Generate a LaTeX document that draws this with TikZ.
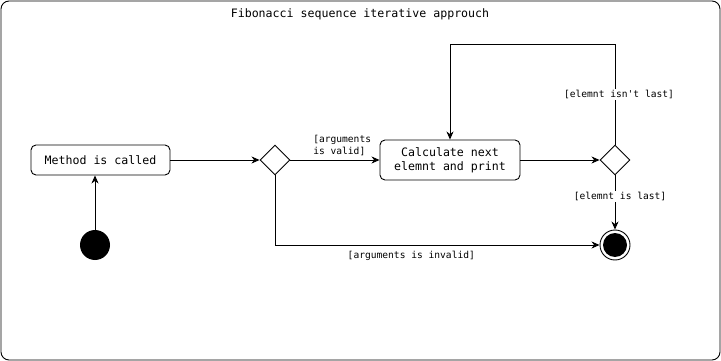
\documentclass[tikz,border=0pt]{standalone}
\usepackage{fontspec}
\setmonofont{DejaVu Sans Mono}
\usetikzlibrary{shapes.geometric,arrows.meta}
\tikzset{>={Stealth[length=8pt,width=7pt,inset=2.5pt]}}
\tikzset{%
  flow/.style={line width=0.9pt,->},
  action/.style={draw,line width=0.9pt,rounded corners=5pt,inner sep=0pt,
    minimum width=139pt,minimum height=30pt,align=center,
    font=\ttfamily\fontsize{11.6}{14}\selectfont},
  decision/.style={draw,diamond,aspect=1,line width=0.9pt,inner sep=0pt,
    minimum width=30pt,minimum height=30pt},
  guard/.style={inner sep=1pt,font=\ttfamily\fontsize{9.6}{11.5}\selectfont},
  initial/.style={circle,fill=black,minimum size=30pt,inner sep=0pt},
  final/.style={circle,draw,line width=0.9pt,minimum size=30pt,inner sep=0pt,
    path picture={\fill (path picture bounding box.center) circle (12pt);}}
}

\begin{document}
\begin{tikzpicture}[x=1pt,y=-1pt]
  \useasboundingbox (0,0) rectangle (721,361);
  \draw[line width=0.9pt,rounded corners=8pt] (1,1) rectangle (720,360);
  \node[font=\ttfamily\fontsize{11.6}{14}\selectfont] (title) at (360,14.5)
    {Fibonacci sequence iterative approuch};

  % activity nodes
  \node[action] (called) at (100.5,160) {Method is called};
  \node[initial] (init) at (95,245) {};
  \node[decision] (valid) at (275,160) {};
  \node[action,minimum width=140pt,minimum height=40pt] (calc) at (450,160)
    {Calculate next\\elemnt and print};
  \node[decision] (last) at (615,160) {};
  \node[final] (end) at (615,245) {};

  % control flow
  \draw[flow] (init.north) -- (init.north |- called.south);
  \draw[flow] (called) -- (valid);
  \draw[flow] (valid) -- (calc)
    node[guard,pos=0.24,anchor=south west,align=left,yshift=3pt] {[arguments\\is valid]};
  \draw[flow] (calc) -- (last);
  \draw[flow] (last.north) -- ++(0,-100)
    node[guard,midway,fill=white,xshift=4pt] {[elemnt isn't last]}
    -| (calc.north);
  \draw[flow] (last.south) -- (end.north)
    node[guard,pos=0.36,fill=white,xshift=5pt,yshift=-1.5pt] {[elemnt is last]};
  \draw[flow] (valid.south) |- (end.west)
    node[guard,pos=0.71,below,yshift=-4.5pt] {[arguments is invalid]};
\end{tikzpicture}
\end{document}
